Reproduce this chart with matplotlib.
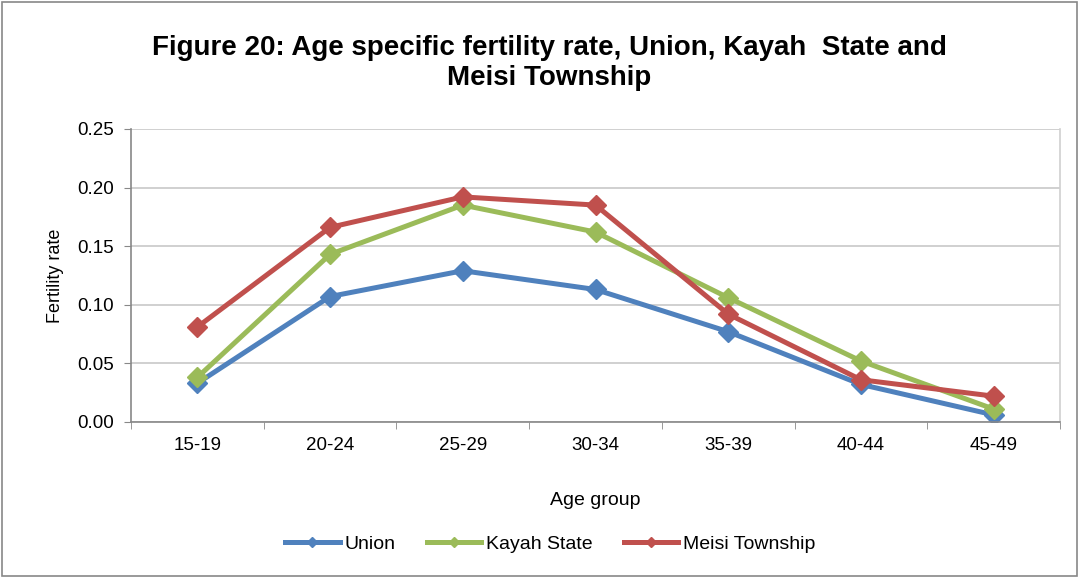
import matplotlib.pyplot as plt
from matplotlib.patches import Rectangle
import numpy as np

plt.rcParams['font.family'] = ['Liberation Sans', 'DejaVu Sans']

age_groups = ['15-19', '20-24', '25-29', '30-34', '35-39', '40-44', '45-49']
union = [0.033, 0.107, 0.129, 0.113, 0.077, 0.032, 0.006]
kayah = [0.038, 0.143, 0.185, 0.162, 0.106, 0.052, 0.011]
meisi = [0.081, 0.166, 0.192, 0.185, 0.092, 0.036, 0.022]

series = [
    ('Union', union, '#4F81BD'),
    ('Kayah State', kayah, '#9BBB59'),
    ('Meisi Township', meisi, '#C0504D'),
]

fig = plt.figure(figsize=(10.79, 5.78), dpi=100)
ax = fig.add_axes([0.1214, 0.270, 0.861, 0.507])

x = np.arange(len(age_groups))
for name, vals, col in series:
    ax.plot(x, vals, '-', color=col, lw=3.6, marker='D', ms=10,
            mec=col, mfc=col, label=name)

ax.set_xlim(-0.5, len(age_groups) - 0.5)
ax.set_ylim(0, 0.25)
yt = np.arange(0, 0.26, 0.05)
ax.set_yticks(yt)
ax.set_yticklabels([f'{v:.2f}' for v in yt])
ax.set_xticks(x)
ax.set_xticklabels(age_groups)
ax.set_xticks(np.arange(-0.5, len(age_groups)), minor=True)
ax.tick_params(axis='x', which='major', length=0, pad=11, labelsize=13.5)
ax.tick_params(axis='x', which='minor', length=5, color='#888888')
ax.tick_params(axis='y', length=5, color='#888888', labelsize=13.5, pad=7)

ax.grid(axis='y', color='#c8c8c8', lw=1.2)
ax.set_axisbelow(True)
ax.spines['top'].set_visible(False)
ax.spines['right'].set_color('#d0d0d0')
ax.spines['right'].set_linewidth(1.2)
for side in ['left', 'bottom']:
    ax.spines[side].set_color('#888888')
    ax.spines[side].set_linewidth(1.2)

ax.set_ylabel('Fertility rate', fontsize=13, labelpad=10)
ax.set_xlabel('Age group', fontsize=14, labelpad=27)

fig.text(0.509, 0.891, 'Figure 20: Age specific fertility rate, Union, Kayah  State and\nMeisi Township',
         ha='center', va='center', fontsize=20, fontweight='bold', linespacing=1.2)

# legend sits centred on the figure, not the plot area
leg = ax.legend(loc='center', bbox_to_anchor=(0.51, 0.058), bbox_transform=fig.transFigure,
                ncol=3, frameon=False, fontsize=14, handlelength=2.8,
                columnspacing=1.6, handletextpad=0.25, markerscale=0.5)

fig.patches.append(Rectangle((0.002, 0.004), 0.996, 0.992, transform=fig.transFigure,
                             fill=False, ec='#888888', lw=1.2))

fig.savefig('out.png', dpi=100)
